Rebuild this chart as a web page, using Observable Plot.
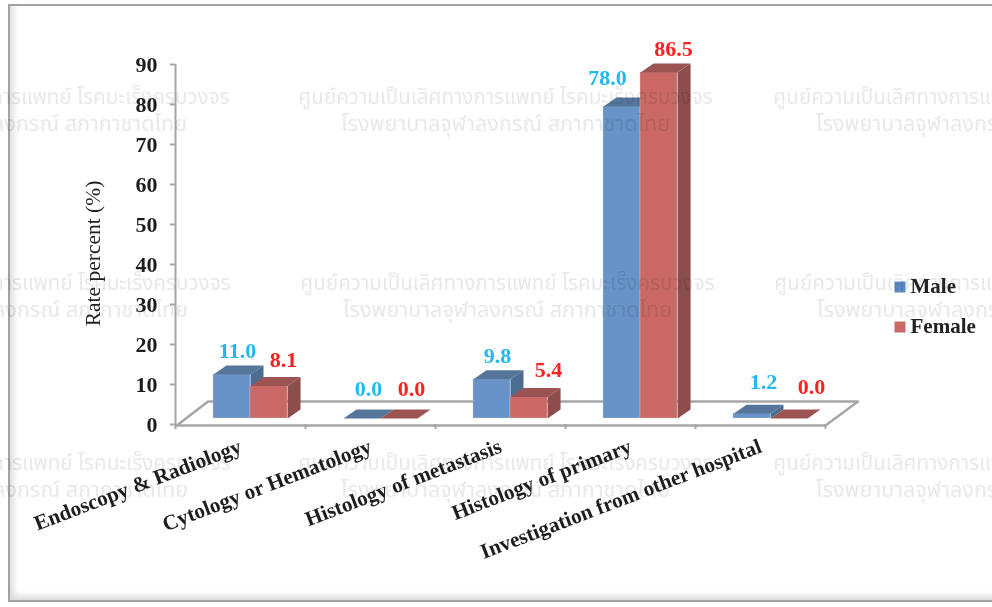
<!DOCTYPE html>
<html><head><meta charset="utf-8">
<script src="https://cdn.jsdelivr.net/npm/d3@7"></script>
<script src="https://cdn.jsdelivr.net/npm/@observablehq/plot@0.6"></script>
<style>
html,body{margin:0;padding:0;background:#fff;overflow:hidden;width:992px;height:607px}
#frame{position:absolute;left:8px;top:4px;width:1000px;height:598px;border:2.5px solid #a3a3a3;box-shadow:inset 5px -6px 7px -2px #d9d9d9;box-sizing:border-box}
#chart{position:absolute;left:0;top:0}
svg{display:block}
</style></head><body>
<div id="frame"></div><div id="chart"></div>
<script>
const categories = ["Endoscopy & Radiology","Cytology or Hematology","Histology of metastasis","Histology of primary","Investigation from other hospital"];
const male = [11.0,0.0,9.8,78.0,1.2];
const female = [8.1,0.0,5.4,86.5,0.0];
const yTicks = [0,10,20,30,40,50,60,70,80,90];
const watermarkLine1 = "ศูนย์ความเป็นเลิศทางการแพทย์ โรคมะเร็งครบวงจร";
const watermarkLine2 = "โรงพยาบาลจุฬาลงกรณ์ สภากาชาดไทย";

const serif = "Liberation Serif, Times New Roman, serif";
const L = 175, T = 64;
const at = (px, py) => ({frameAnchor:"top-left", dx:px-L, dy:py-T, lineAnchor:"middle"});
const depthX = 0.1, depthY = 2.25, barW = 0.285, lift = -6;
const barStart = {male:0.292, female:0.577};
const gray = "#a6a6a6";

function bar3d(values, start, front, top, side){
  const rows = values.map((v,i)=>({i,v,x1:i+start,x2:i+start+barW}));
  const topFace = rows.flatMap(d=>[[d.x1,d.v],[d.x2,d.v],[d.x2+depthX,d.v+depthY],[d.x1+depthX,d.v+depthY]].map(p=>({x:p[0],y:p[1],id:d.i})));
  const sideFace = rows.flatMap(d=>[[d.x2,0],[d.x2+depthX,depthY],[d.x2+depthX,d.v+depthY],[d.x2,d.v]].map(p=>({x:p[0],y:p[1],id:d.i})));
  return [
    Plot.rectY(rows,{x1:"x1",x2:"x2",y1:0,y2:"v",fill:front,dy:lift,stroke:"#dce6f0",strokeOpacity:0.3,strokeWidth:1}),
    Plot.line(sideFace,{x:"x",y:"y",z:"id",fill:side,stroke:"none",dy:lift}),
    Plot.line(topFace,{x:"x",y:"y",z:"id",fill:top,stroke:"none",dy:lift})
  ];
}
const nudgeMale = [[5.5,-29.7],[6.5,-35.7],[5.5,-29.5],[-14.5,-34.7],[11.5,-37.9]];
const nudgeFemale = [[14.5,-32.3],[12.5,-35.7],[19.5,-33.1],[14.5,-29.7],[22.5,-37.7]];
function valueLabels(values,start,nudges,color){
  return values.map((v,i)=>Plot.text([v],{x:()=>i+start+barW/2,y:d=>d,text:d=>d3.format(".1f")(d),dx:nudges[i][0],dy:nudges[i][1],
    fill:color,fontSize:22,fontWeight:"bold",fontFamily:serif}));
}
const floor = [[0.02,0],[0.25,5.75],[5.25,5.75],[5,-0.25]].map(p=>({x:p[0],y:p[1]}));
const wmCenters = [[22,97,124],[505,97,124],[980,97,124],[23,283,310],[507,283,310],[981,283,310],[23,463,490],[505,463,490],[980,463,490]];
const wmStyle = {text:d=>d,textAnchor:"middle",fill:"#e8e8e8",fontFamily:"Noto Sans Thai, DejaVu Sans, Noto Sans, sans-serif",mixBlendMode:"multiply"};
const watermark = wmCenters.flatMap(c=>[
  Plot.text([watermarkLine1],{...at(c[0],c[1]),...wmStyle,fontSize:20.6}),
  Plot.text([watermarkLine2],{...at(c[0],c[2]),...wmStyle,fontSize:21.6})
]);
const legendItem = (name,color,py)=>[
  Plot.dot([name],{...at(899.5,py),symbol:"square",r:6.2,fill:color,stroke:"none"}),
  Plot.text([name],{...at(910,py-0.5),text:d=>d,textAnchor:"start",fontSize:21,fontWeight:"bold",fontFamily:serif,fill:"#222"})
];

const chart = Plot.plot({
  width:992,height:607,
  marginLeft:L,marginRight:167,marginTop:T,marginBottom:183,
  style:{background:"transparent",overflow:"visible"},
  x:{domain:[0,5],axis:null},
  y:{domain:[0,90],axis:null},
  marks:[
    Plot.line(floor,{x:"x",y:"y",stroke:gray,strokeWidth:2.5}),
    Plot.ruleX([0],{y1:0,y2:90,stroke:gray,strokeWidth:2}),
    Plot.ruleY([0],{x1:0,x2:5,stroke:gray,strokeWidth:2.5,dy:1}),
    Plot.axisY({ticks:yTicks,tickSize:5,tickPadding:13,stroke:gray,strokeWidth:2,fill:"#1e1e1e",fontSize:22,fontWeight:"bold",fontFamily:serif,label:null}),
    Plot.axisX({ticks:[0,1,2,3,4,5],tickSize:5,stroke:gray,strokeWidth:2,text:null,label:null,tickFormat:()=>""}),
    Plot.axisX({ticks:categories.map((c,i)=>i+0.5),tickSize:0,tickPadding:21,tickRotate:-21,tickFormat:d=>categories[d-0.5],fill:"#1e1e1e",fontSize:21.3,fontWeight:"bold",fontFamily:serif,label:null}),
    ...bar3d(male,barStart.male,"#6893c8","#56759b","#4d6c92"),
    ...bar3d(female,barStart.female,"#c96864","#9c5452","#8c4e4c"),
    ...valueLabels(male,barStart.male,nudgeMale,"#22b8f2"),
    ...valueLabels(female,barStart.female,nudgeFemale,"#ff2020"),
    Plot.text(["Rate percent (%)"],{...at(93,253),textAnchor:"middle",text:d=>d,rotate:-90,fontSize:21.5,fontFamily:serif,fill:"#222"}),
    ...legendItem("Male","#5b8ac4",286.5),
    ...legendItem("Female","#c96864",326.5),
    ...watermark
  ]
});
document.getElementById("chart").appendChild(chart);
</script></body></html>
